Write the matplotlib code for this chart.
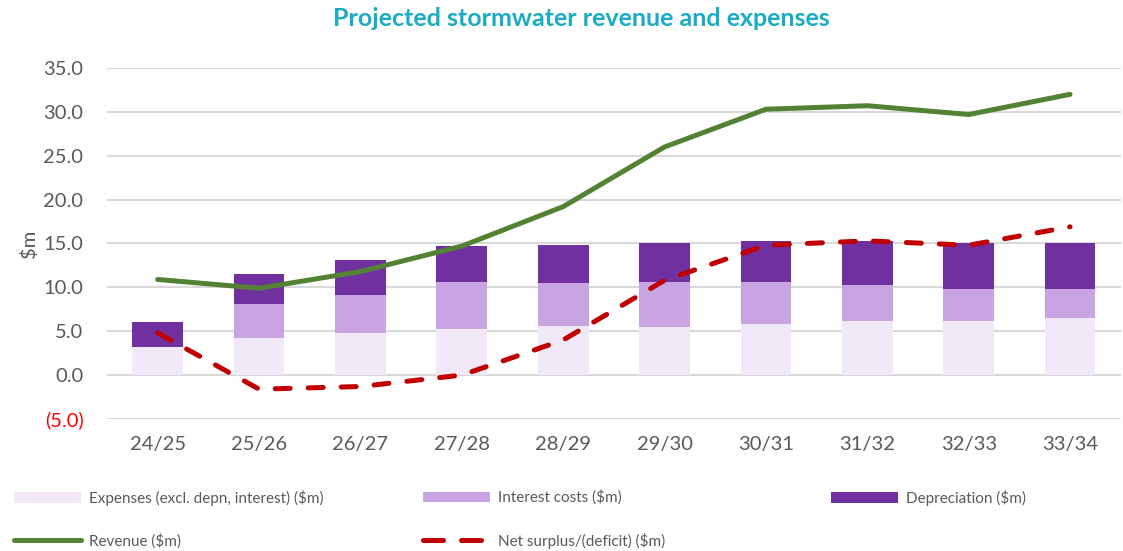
import numpy as np
import matplotlib
matplotlib.use("Agg")
import matplotlib.pyplot as plt
from matplotlib.patches import Patch
from matplotlib.lines import Line2D

plt.rcParams['font.family'] = ['Lato', 'DejaVu Sans']

# data ($m)
years = ['24/25', '25/26', '26/27', '27/28', '28/29', '29/30', '30/31', '31/32', '32/33', '33/34']
expenses = [3.2, 4.2, 4.75, 5.3, 5.6, 5.5, 5.8, 6.2, 6.2, 6.5]
interest = [0.0, 3.9, 4.35, 5.3, 4.9, 5.1, 4.8, 4.1, 3.6, 3.3]
depreciation = [2.9, 3.4, 4.0, 4.1, 4.35, 4.5, 4.65, 4.95, 5.2, 5.3]
revenue = [10.9, 9.9, 11.8, 14.7, 19.2, 26.0, 30.3, 30.7, 29.7, 32.0]
net = [4.8, -1.6, -1.3, 0.0, 4.0, 10.8, 14.8, 15.3, 14.8, 16.9]

yticks = [-5, 0, 5, 10, 15, 20, 25, 30, 35]

c_exp = '#F0E7F7'
c_int = '#C8A5E2'
c_dep = '#7030A0'
c_rev = '#548235'
c_net = '#C00000'
c_txt = '#595959'
net_dash = (0, (3.0, 3.6))

fig = plt.figure(figsize=(11.23, 5.51), dpi=100)
ax = fig.add_axes([0.0953, 0.2396, 0.9027, 0.637])

x = np.arange(len(years))
exp = np.array(expenses)
intr = np.array(interest)
dep = np.array(depreciation)

ax.bar(x, exp, width=0.5, color=c_exp, zorder=2)
ax.bar(x, intr, width=0.5, bottom=exp, color=c_int, zorder=2)
ax.bar(x, dep, width=0.5, bottom=exp + intr, color=c_dep, zorder=2)

ax.plot(x, revenue, color=c_rev, lw=3.6, solid_capstyle='round', solid_joinstyle='round', zorder=3)
ax.plot(x, net, color=c_net, lw=3.6, linestyle=net_dash, dash_capstyle='round', zorder=3)

ax.set_xlim(-0.5, len(years) - 0.5)
ax.set_ylim(-5, 35)
ax.set_yticks(yticks)
labels = []
for v in yticks:
    if v < 0:
        labels.append('(%.1f)' % abs(v))
    else:
        labels.append('%.1f' % v)
ax.set_yticklabels(labels)
for lab, v in zip(ax.get_yticklabels(), yticks):
    lab.set_color('#FF0000' if v < 0 else c_txt)
ax.set_xticks(x)
ax.set_xticklabels(years, color=c_txt)
ax.tick_params(axis='both', length=0, labelsize=14.5)
ax.tick_params(axis='y', pad=17)
ax.tick_params(axis='x', pad=12)
ax.grid(axis='y', color='#D9D9D9', lw=1.5, zorder=0)
ax.set_axisbelow(True)
for s in ax.spines.values():
    s.set_visible(False)

ax.set_ylabel('$m', color=c_txt, fontsize=14.5, labelpad=4)

fig.text(0.518, 0.967, 'Projected stormwater revenue and expenses', ha='center', va='center',
         fontsize=18, fontweight='bold', color='#1AABC5')

cols = [
    ([Patch(facecolor=c_exp, label='Expenses (excl. depn, interest) ($m)'),
      Line2D([], [], color=c_rev, lw=3.6, solid_capstyle='round', label='Revenue ($m)')], 0.0125),
    ([Patch(facecolor=c_int, label='Interest costs ($m)'),
      Line2D([], [], color=c_net, lw=3.6, linestyle=(0, (4.0, 3.6)), dash_capstyle='round',
             label='Net surplus/(deficit) ($m)')], 0.3767),
    ([Patch(facecolor=c_dep, label='Depreciation ($m)')], 0.740),
]
for hs, x0 in cols:
    leg = fig.legend(handles=hs, loc='upper left', bbox_to_anchor=(x0, 0.111), frameon=False,
                     fontsize=11, handlelength=4.4, handleheight=0.65, handletextpad=0.5,
                     labelcolor=c_txt, labelspacing=1.8, borderpad=0, borderaxespad=0)

fig.savefig('out.png', dpi=100)
